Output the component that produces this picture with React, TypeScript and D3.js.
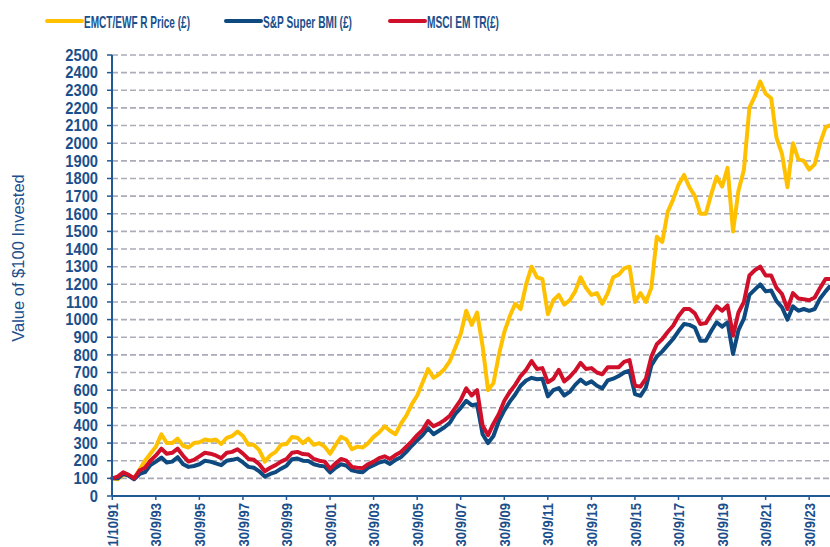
import React from "react";
import * as d3 from "d3";

// Quarterly observation dates (Oct 1991 .. Jul 2024) plus the final month
const quarterDates: Date[] = d3.range(132).map((i) => new Date(1991, 9 + 3 * i, 1));
const dates: Date[] = [...quarterDates, new Date(2024, 8, 1)];

const emctValues = [
  100, 95, 120, 118, 100, 150, 200, 240, 280, 350,
  300, 300, 325, 285, 275, 300, 305, 320, 315, 320,
  295, 330, 340, 365, 340, 290, 290, 260, 195, 230,
  250, 290, 295, 335, 330, 300, 325, 290, 300, 280,
  240, 290, 335, 320, 265, 280, 275, 300, 335, 360,
  395, 370, 350, 410, 455, 520, 570, 645, 720, 670,
  690, 720, 765, 840, 920, 1050, 970, 1040, 850, 600,
  640, 800, 930, 1020, 1090, 1060, 1200, 1300, 1240, 1230,
  1030, 1110, 1140, 1085, 1110, 1160, 1240, 1180, 1140, 1150,
  1090, 1150, 1240, 1255, 1290, 1300, 1100, 1150, 1100, 1180,
  1470, 1440, 1610, 1680, 1765, 1820, 1750, 1700, 1600, 1600,
  1710, 1810, 1754, 1860, 1500, 1730, 1850, 2200, 2265, 2350,
  2280, 2255, 2030, 1940, 1750, 2000, 1910, 1900, 1850, 1880,
  2000, 2090, 2100,
];

const spBmiValues = [
  100, 100, 125, 115, 95, 125, 135, 175, 195, 218,
  190, 195, 220, 180, 165, 170, 180, 200, 195, 185,
  175, 200, 205, 212, 190, 165, 160, 140, 110, 125,
  135, 155, 172, 208, 212, 200, 198, 180, 172, 168,
  133, 160, 180, 172, 145, 138, 135, 160, 175, 190,
  198, 182, 205, 220, 250, 285, 315, 345, 385, 350,
  370, 390, 415, 465, 500, 540, 515, 520, 350, 300,
  340, 425, 485, 535, 575, 625, 655, 670, 662, 665,
  565, 600, 612, 570, 590, 630, 660, 635, 650, 625,
  610, 655, 665, 680, 700, 710, 578, 568, 615, 740,
  790, 820, 855, 890, 935, 975, 970, 955, 880, 880,
  935, 985, 960, 985, 805, 940, 1005, 1140, 1170, 1200,
  1160, 1165, 1105, 1070, 1000, 1075, 1050, 1060, 1050, 1060,
  1120, 1160, 1185,
];

const msciEmValues = [
  100, 110, 135, 120, 100, 145, 160, 200, 230, 268,
  240, 245, 268, 228, 195, 205, 225, 245, 240, 230,
  215, 245, 250, 265, 240, 210, 205, 180, 140, 160,
  175, 195, 210, 245, 250, 238, 235, 210, 200, 195,
  155, 185, 210, 200, 165, 160, 158, 180, 195, 215,
  225, 210, 232, 250, 280, 310, 345, 375, 425, 395,
  410, 430, 455, 500, 545, 610, 570, 600, 400, 345,
  410, 465, 540, 590, 630, 680, 715, 765, 720, 725,
  645, 665, 715, 650, 675, 710, 755, 720, 725, 700,
  690, 730, 730, 730, 760, 770, 625, 620, 665, 790,
  860, 890, 930, 965, 1020, 1060, 1060, 1035, 975, 980,
  1030, 1075, 1050, 1080, 910, 1040, 1100, 1250, 1280, 1300,
  1250, 1250, 1180, 1145, 1060, 1150, 1120, 1115, 1110, 1125,
  1180, 1230, 1230,
];

const seriesNames = ["EMCT/EWF R Price (£)", "S&P Super BMI (£)", "MSCI EM TR(£)"];
const seriesColors = ["#FFC000", "#0E4A80", "#D0102A"];
const yTicks = d3.range(0, 2600, 100);
const xTickDates = [new Date(1991, 9, 1), ...d3.range(1993, 2024, 2).map((y) => new Date(y, 8, 30))];
const yTitle = "Value of $100 Invested";

const W = 830;
const H = 547;
const TEXT = "#1B4F8C";
const AXIS = "#1F5A96";
const FONT = "'Liberation Sans', Arial, sans-serif";

export default function App() {
  const x = d3
    .scaleTime()
    .domain([new Date(1991, 9, 1), new Date(2024, 9, 1)])
    .range([112.3, 112.3 + 33 * 21.78]);
  const y = d3.scaleLinear().domain([0, 2500]).range([496, 55]);
  const fmt = d3.timeFormat("%-d/%-m/%y");

  const line = (vals: number[]) =>
    d3
      .line<number>()
      .x((_, i) => x(dates[i]))
      .y((v) => y(v))(vals) as string;

  const seriesData = [emctValues, spBmiValues, msciEmValues];
  const legendX = [47, 226, 390];
  const legendTextLen = [106, 89, 72];

  return (
    <div style={{ position: "absolute", left: 0, top: 0 }}>
      <svg width={W} height={H} style={{ display: "block", background: "#fff" }}>
        {/* gridlines */}
        {yTicks
          .filter((t) => t > 0)
          .map((t) => (
            <line
              key={"g" + t}
              x1={112}
              x2={W}
              y1={y(t)}
              y2={y(t)}
              stroke="#ABABB9"
              strokeWidth={1.6}
              strokeDasharray="6,3"
            />
          ))}

        {/* series */}
        {[0, 1, 2].map((s) => (
          <path
            key={"s" + s}
            d={line(seriesData[s])}
            fill="none"
            stroke={seriesColors[s]}
            strokeWidth={4}
            strokeLinejoin="round"
            strokeLinecap="round"
          />
        ))}

        {/* axes */}
        <line x1={112} x2={112} y1={55} y2={496} stroke={AXIS} strokeWidth={2} />
        <line x1={112} x2={W} y1={496} y2={496} stroke={AXIS} strokeWidth={2} />
        {yTicks.map((t) => (
          <g key={"yt" + t}>
            <line x1={107} x2={112} y1={y(t)} y2={y(t)} stroke={AXIS} strokeWidth={1.5} />
            <text
              transform={`translate(98,${y(t)}) scale(0.92,1)`}
              dy="0.36em"
              textAnchor="end"
              fontFamily={FONT}
              fontWeight="bold"
              fontSize={16}
              fill={TEXT}
            >
              {t}
            </text>
          </g>
        ))}
        {xTickDates.map((d, i) => (
          <g key={"xt" + i}>
            <line x1={x(d)} x2={x(d)} y1={496} y2={500} stroke={AXIS} strokeWidth={1.5} />
            <text
              transform={`translate(${x(d)},503) rotate(-90) scale(0.84,1)`}
              dy="0.36em"
              textAnchor="end"
              fontFamily={FONT}
              fontWeight="bold"
              fontSize={15.5}
              fill={TEXT}
            >
              {fmt(d)}
            </text>
          </g>
        ))}

        {/* y title */}
        <text
          transform="translate(24,258) rotate(-90)"
          textAnchor="middle"
          fontFamily={FONT}
          fontSize={16.5}
          fill={TEXT}
        >
          {yTitle}
        </text>

        {/* legend */}
        {seriesNames.map((name, i) => (
          <g key={"lg" + i}>
            <line
              x1={legendX[i]}
              x2={legendX[i] + 35}
              y1={21}
              y2={21}
              stroke={seriesColors[i]}
              strokeWidth={4}
              strokeLinecap="round"
            />
            <text
              x={legendX[i] + 37}
              y={27.5}
              fontFamily={FONT}
              fontWeight="bold"
              fontSize={17}
              fill={TEXT}
              textLength={legendTextLen[i]}
              lengthAdjust="spacingAndGlyphs"
            >
              {name}
            </text>
          </g>
        ))}
      </svg>
    </div>
  );
}
